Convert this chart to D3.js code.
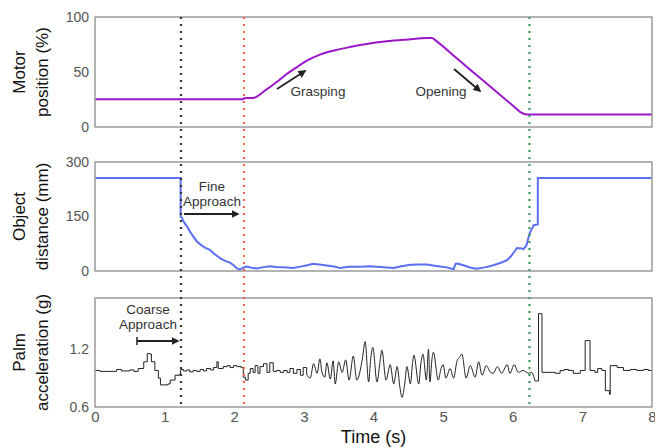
<!DOCTYPE html>
<html>
<head>
<meta charset="utf-8">
<script src="https://cdn.jsdelivr.net/npm/d3@7"></script>
<style>
  body { margin: 0; background: #fff; }
  text { font-family: "Liberation Sans", Arial, Helvetica, sans-serif; }
  .tick text { fill: #555; font-size: 14px; }
  .axis-title { fill: #111; font-size: 17px; }
  .note { fill: #333; font-size: 13.5px; }
</style>
</head>
<body>
<svg id="vis" width="655" height="448"></svg>
<script>
// motor position (%)
const motorT = [0, 2.13, 2.14, 2.27, 2.45, 2.61, 2.75, 2.90, 3.05, 3.23, 3.45, 3.66, 3.90, 4.19, 4.50, 4.77, 4.84, 4.89, 5.20, 5.60, 6.00, 6.11, 6.20, 8];
const motorV = [25.2, 25.2, 26.2, 26.4, 33.5, 40.9, 48, 54.5, 60.5, 65.8, 69.8, 72.7, 75.5, 77.9, 79.6, 80.9, 81, 78.8, 62.2, 40.9, 19.5, 13.6, 11.3, 11.3];

// object distance (mm)
const distT = [0, 1.23, 1.23, 1.25, 1.26, 1.29, 1.33, 1.365, 1.40, 1.46, 1.52, 1.58, 1.65, 1.72, 1.80, 1.87, 1.94, 1.99, 2.04, 2.08, 2.13, 2.18, 2.25, 2.32, 2.40, 2.51, 2.60, 2.70, 2.85, 2.95, 3.05, 3.13, 3.25, 3.38, 3.47, 3.52, 3.65, 3.81, 3.95, 4.10, 4.29, 4.40, 4.53, 4.65, 4.77, 4.90, 5.05, 5.15, 5.18, 5.22, 5.30, 5.40, 5.48, 5.60, 5.72, 5.82, 5.92, 5.98, 6.03, 6.06, 6.13, 6.15, 6.18, 6.20, 6.22, 6.25, 6.28, 6.30, 6.36, 6.36, 8];
const distV = [256, 256, 149, 147, 140, 131, 120, 108, 98, 82, 72, 64, 58, 46, 35, 28, 23, 16, 7, 4, 9, 12, 9, 7, 10, 13, 11, 10, 8, 12, 16, 20, 17, 14, 11, 8, 12, 12, 13, 11, 8, 13, 17, 18, 18, 14, 10, 5, 20, 20, 15, 9, 6, 10, 16, 22, 30, 42, 55, 63, 62, 60, 66, 72, 88, 107, 118, 126, 128, 256, 256];

// palm acceleration (g)
const accT = [0, 0.07, 0.31, 0.38, 0.50, 0.56, 0.62, 0.70, 0.75, 0.79, 0.81, 0.86, 0.91, 0.94, 1.05, 1.08, 1.15, 1.21, 1.23, 1.27, 1.32, 1.36, 1.41, 1.46, 1.51, 1.56, 1.60, 1.66, 1.70, 1.75, 1.77, 1.84, 1.90, 1.94, 1.99, 2.04, 2.10, 2.13, 2.16, 2.20, 2.23, 2.27, 2.30, 2.34, 2.37, 2.42, 2.47, 2.51, 2.56, 2.61, 2.66, 2.71, 2.76, 2.80, 2.85, 2.90, 2.95, 2.99, 3.04, 3.09, 3.14, 3.19, 3.23, 3.26, 3.30, 3.33, 3.38, 3.42, 3.45, 3.50, 3.55, 3.60, 3.65, 3.71, 3.76, 3.84, 3.88, 3.93, 3.96, 3.99, 4.05, 4.09, 4.12, 4.18, 4.24, 4.29, 4.34, 4.38, 4.41, 4.45, 4.48, 4.53, 4.56, 4.58, 4.65, 4.68, 4.71, 4.76, 4.79, 4.81, 4.84, 4.86, 4.93, 4.97, 5.00, 5.04, 5.10, 5.15, 5.20, 5.24, 5.27, 5.33, 5.39, 5.46, 5.51, 5.56, 5.62, 5.68, 5.72, 5.78, 5.84, 5.92, 5.96, 6.02, 6.08, 6.15, 6.23, 6.27, 6.32, 6.37, 6.42, 6.61, 6.68, 6.74, 6.80, 6.87, 6.97, 7.04, 7.11, 7.18, 7.22, 7.28, 7.33, 7.39, 7.40, 7.50, 7.59, 7.69, 7.78, 7.88, 7.95, 8];
const accV = [0.98, 0.97, 0.99, 0.975, 0.985, 0.97, 1.0, 1.07, 1.155, 1.15, 1.07, 0.98, 0.90, 0.83, 0.84, 0.88, 0.93, 0.94, 0.99, 0.975, 0.985, 0.965, 0.98, 0.97, 0.99, 0.975, 1.0, 0.985, 1.01, 1.07, 1.0, 1.02, 1.03, 1.01, 1.03, 1.02, 1.01, 0.91, 0.88, 0.95, 1.0, 0.96, 1.03, 0.95, 1.02, 1.05, 0.96, 1.06, 0.97, 0.98, 0.96, 0.98, 0.96, 1.0, 0.95, 0.99, 0.93, 1.01, 0.94, 0.90, 1.05, 0.95, 1.10, 0.96, 0.91, 1.06, 0.89, 1.08, 0.84, 1.07, 0.96, 1.09, 0.88, 1.13, 0.88, 1.10, 1.28, 0.86, 1.10, 1.22, 0.86, 1.05, 1.19, 0.88, 1.04, 0.84, 1.02, 0.80, 0.70, 0.85, 1.02, 0.84, 1.05, 1.14, 0.84, 1.05, 1.15, 0.88, 1.20, 0.86, 1.10, 1.17, 0.88, 1.0, 1.04, 0.90, 1.0, 0.90, 1.08, 1.12, 1.15, 0.90, 1.03, 0.91, 1.07, 0.93, 1.03, 0.96, 0.95, 1.02, 0.95, 1.04, 0.95, 1.04, 0.96, 0.98, 0.95, 0.96, 0.87, 1.57, 0.96, 0.95, 0.98, 0.99, 0.98, 0.95, 0.98, 1.29, 0.98, 0.96, 1.00, 0.98, 0.77, 0.73, 1.03, 1.01, 0.98, 0.99, 0.98, 0.99, 0.98, 0.98];

// the oscillating stretch of the acceleration trace (drawn smooth)
const wavyStart = 3.04, wavyEnd = 6.32;

// event markers (s)
const eventT = [1.235, 2.14, 6.24];
const eventColors = ["#333333", "#f26550", "#3a9a5c"];

const xTicks = [0, 1, 2, 3, 4, 5, 6, 7, 8];

var svg = d3.select("svg#vis");

const left = 95, right = 652;

var x = d3.scaleLinear().domain([0, 8]).range([left, right]);

const panels = [
    {top: 17, bottom: 127, domain: [0, 100], ticks: [0, 50, 100], fmt: d3.format("d"), title: ["Motor", "position (%)"]},
    {top: 162, bottom: 271, domain: [0, 300], ticks: [0, 150, 300], fmt: d3.format("d"), title: ["Object", "distance (mm)"]},
    {top: 298, bottom: 407, domain: [0.6, 1.733], ticks: [0.6, 1.2], fmt: d3.format(".1f"), title: ["Palm", "acceleration (g)"]}
];

panels.forEach(function(p) {
    p.y = d3.scaleLinear().domain(p.domain).range([p.bottom, p.top]);

    let ax = svg.append("g")
        .attr("transform", "translate(" + left + ",0)")
        .call(d3.axisLeft(p.y).tickValues(p.ticks).tickFormat(p.fmt).tickSize(0).tickPadding(6));
    ax.select(".domain").remove();
    ax.selectAll("text").style("font-size", "14px");

    // two-line rotated title
    let cy = (p.top + p.bottom) / 2;
    p.title.forEach(function(line, i) {
        svg.append("text")
            .attr("class", "axis-title")
            .attr("transform", "translate(" + (19 + i * 23) + "," + cy + ") rotate(-90)")
            .attr("text-anchor", "middle")
            .attr("dy", "0.35em")
            .text(line);
    });
});

// x axis on bottom panel
var xAxis = svg.append("g")
    .attr("transform", "translate(0," + panels[2].bottom + ")")
    .call(d3.axisBottom(x).tickValues(xTicks).tickSize(0).tickPadding(4));
xAxis.select(".domain").remove();
xAxis.selectAll("text").style("font-size", "15px");
// keep the last label inside the page
xAxis.selectAll("text").filter(d => d === 8).attr("text-anchor", "end").attr("dx", "4px");

svg.append("text")
    .attr("class", "axis-title")
    .attr("x", x(4))
    .attr("y", 443)
    .attr("text-anchor", "middle")
    .style("font-size", "18px")
    .text("Time (s)");

function pairs(ts, vs) {
    return ts.map((t, i) => [t, vs[i]]);
}

// motor line
svg.append("path")
    .datum(pairs(motorT, motorV))
    .attr("fill", "none")
    .attr("stroke", "#9a16c9")
    .attr("stroke-width", 2)
    .attr("d", d3.line().x(d => x(d[0])).y(d => panels[0].y(d[1])).curve(d3.curveMonotoneX));

// distance line
svg.append("path")
    .datum(pairs(distT, distV))
    .attr("fill", "none")
    .attr("stroke", "#5b6ff2")
    .attr("stroke-width", 2)
    .attr("d", d3.line().x(d => x(d[0])).y(d => panels[1].y(d[1])));

// acceleration line: stepped where calm, smooth where it oscillates
let acc = pairs(accT, accV);
let accStep = d3.line().x(d => x(d[0])).y(d => panels[2].y(d[1])).curve(d3.curveStepAfter);
let accWave = d3.line().x(d => x(d[0])).y(d => panels[2].y(d[1])).curve(d3.curveMonotoneX);
let accParts = [
    {d: acc.filter(d => d[0] <= wavyStart), line: accStep},
    {d: acc.filter(d => d[0] >= wavyStart && d[0] <= wavyEnd), line: accWave},
    {d: acc.filter(d => d[0] >= wavyEnd), line: accStep}
];
accParts.forEach(function(part) {
    svg.append("path")
        .datum(part.d)
        .attr("fill", "none")
        .attr("stroke", "#222")
        .attr("stroke-width", 1)
        .attr("d", part.line);
});

// frames
panels.forEach(function(p) {
    svg.append("rect")
        .attr("x", left)
        .attr("y", p.top)
        .attr("width", right - left)
        .attr("height", p.bottom - p.top)
        .attr("fill", "none")
        .attr("stroke", "#9a9a9a")
        .attr("stroke-width", 1.5);
});

// event markers
svg.selectAll("line.event")
    .data(eventT)
    .enter()
    .append("line")
    .attr("class", "event")
    .attr("x1", d => x(d))
    .attr("x2", d => x(d))
    .attr("y1", panels[0].top)
    .attr("y2", panels[2].bottom)
    .attr("stroke", (d, i) => eventColors[i])
    .attr("stroke-width", 2.2)
    .attr("stroke-dasharray", "2,5");

// arrows
var defs = svg.append("defs");
defs.append("marker")
    .attr("id", "head")
    .attr("viewBox", "0 0 10 10")
    .attr("refX", 8)
    .attr("refY", 5)
    .attr("markerWidth", 4.5)
    .attr("markerHeight", 4.5)
    .attr("orient", "auto")
    .append("path")
    .attr("d", "M0,0 L10,5 L0,10 z")
    .attr("fill", "#222");

function arrow(x1, y1, x2, y2) {
    svg.append("line")
        .attr("x1", x1).attr("y1", y1)
        .attr("x2", x2).attr("y2", y2)
        .attr("stroke", "#222")
        .attr("stroke-width", 1.8)
        .attr("marker-end", "url(#head)");
}

function note(lines, cx, cy) {
    lines.forEach(function(line, i) {
        svg.append("text")
            .attr("class", "note")
            .attr("x", cx)
            .attr("y", cy + i * 15)
            .attr("text-anchor", "middle")
            .attr("dy", "0.35em")
            .text(line);
    });
}

// Grasping
arrow(277, 89, 305, 71);
note(["Grasping"], 318, 91);

// Opening
arrow(454, 69, 480, 91);
note(["Opening"], 441, 91);

// Fine approach
arrow(184, 214, 238, 214);
note(["Fine", "Approach"], 212, 186);

// Coarse approach
arrow(137, 341, 178, 341);
svg.append("line")
    .attr("x1", 137).attr("x2", 137)
    .attr("y1", 337).attr("y2", 345)
    .attr("stroke", "#222")
    .attr("stroke-width", 1.5);
note(["Coarse", "Approach"], 148, 309);
</script>
</body>
</html>
